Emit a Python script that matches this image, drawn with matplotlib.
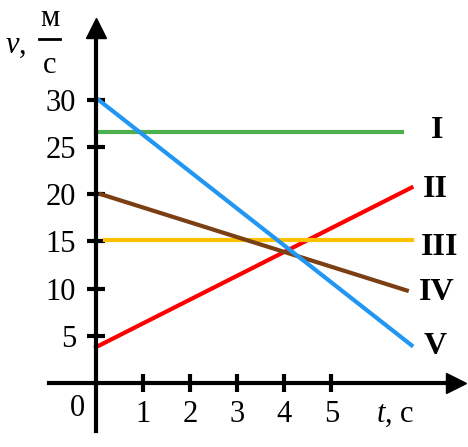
import matplotlib.pyplot as plt

plt.rcParams['font.family'] = ['Liberation Serif', 'DejaVu Serif']
plt.rcParams['mathtext.fontset'] = 'custom'
plt.rcParams['mathtext.it'] = 'Liberation Serif:italic'
plt.rcParams['mathtext.rm'] = 'Liberation Serif'

# data
names = ["I", "II", "III", "IV", "V"]
t_start = [0.0, 0.0, 0.2, 0.1, 0.05]
t_end = [6.5, 6.7, 6.7, 6.6, 6.7]
v_start = [26.6, 3.8, 15.2, 20.0, 30.0]
v_end = [26.6, 20.7, 15.2, 9.8, 4.0]
colors = ["#4caf50", "#ff0000", "#ffc000", "#7b3f14", "#2196f3"]
label_t = [7.25, 7.2, 7.3, 7.23, 7.2]
label_v = [26.7, 20.5, 14.4, 9.6, 3.9]

x_ticks = [1, 2, 3, 4, 5]
y_ticks = [5, 10, 15, 20, 25, 30]

fig = plt.figure(figsize=(4.68, 4.47), dpi=100)
ax = fig.add_axes([0, 0, 1, 1])
ax.set_xlim(-2.04, 7.9)
ax.set_ylim(-6.78, 40.57)

# axes through the origin
for side in ['top', 'right']:
    ax.spines[side].set_visible(False)
ax.spines['left'].set_position(('data', 0))
ax.spines['bottom'].set_position(('data', 0))
ax.spines['left'].set_bounds(-5.1, 37.5)
ax.spines['bottom'].set_bounds(-1.0, 7.5)
for s in ['left', 'bottom']:
    ax.spines[s].set_linewidth(3)
ax.plot(7.65, 0, marker='>', markersize=14, color='black', clip_on=False)
ax.plot(0, 37.6, marker='^', markersize=14, color='black', clip_on=False)

ax.set_xticks(x_ticks)
ax.set_xticklabels([str(x) for x in x_ticks])
ax.set_yticks(y_ticks)
ax.set_yticklabels([str(y) for y in y_ticks])
ax.tick_params(direction='inout', length=13, width=3, labelsize=22)
ax.tick_params(axis='x', pad=6)
ax.tick_params(axis='y', pad=8)

for i in range(len(names)):
    ax.plot([t_start[i], t_end[i]], [v_start[i], v_end[i]],
            color=colors[i], linewidth=3)
    ax.text(label_t[i], label_v[i], names[i], fontsize=23, fontweight='bold',
            ha='center', va='center')

ax.text(-0.4, -2.65, "0", fontsize=22, ha='center', va='center')
ax.text(6.35, -3.3, r"$t$, с", fontsize=22, ha='center', va='center')

# y-axis unit as a fraction
ax.text(-1.7, 35.8, r"$v$,", fontsize=22, ha='center', va='center')
ax.text(-0.98, 38.6, "м", fontsize=22, ha='center', va='center')
ax.text(-0.98, 33.6, "с", fontsize=22, ha='center', va='center')
ax.plot([-1.22, -0.76], [36.4, 36.4], color='black', linewidth=2, clip_on=False)

fig.savefig("out.png", dpi=100)
